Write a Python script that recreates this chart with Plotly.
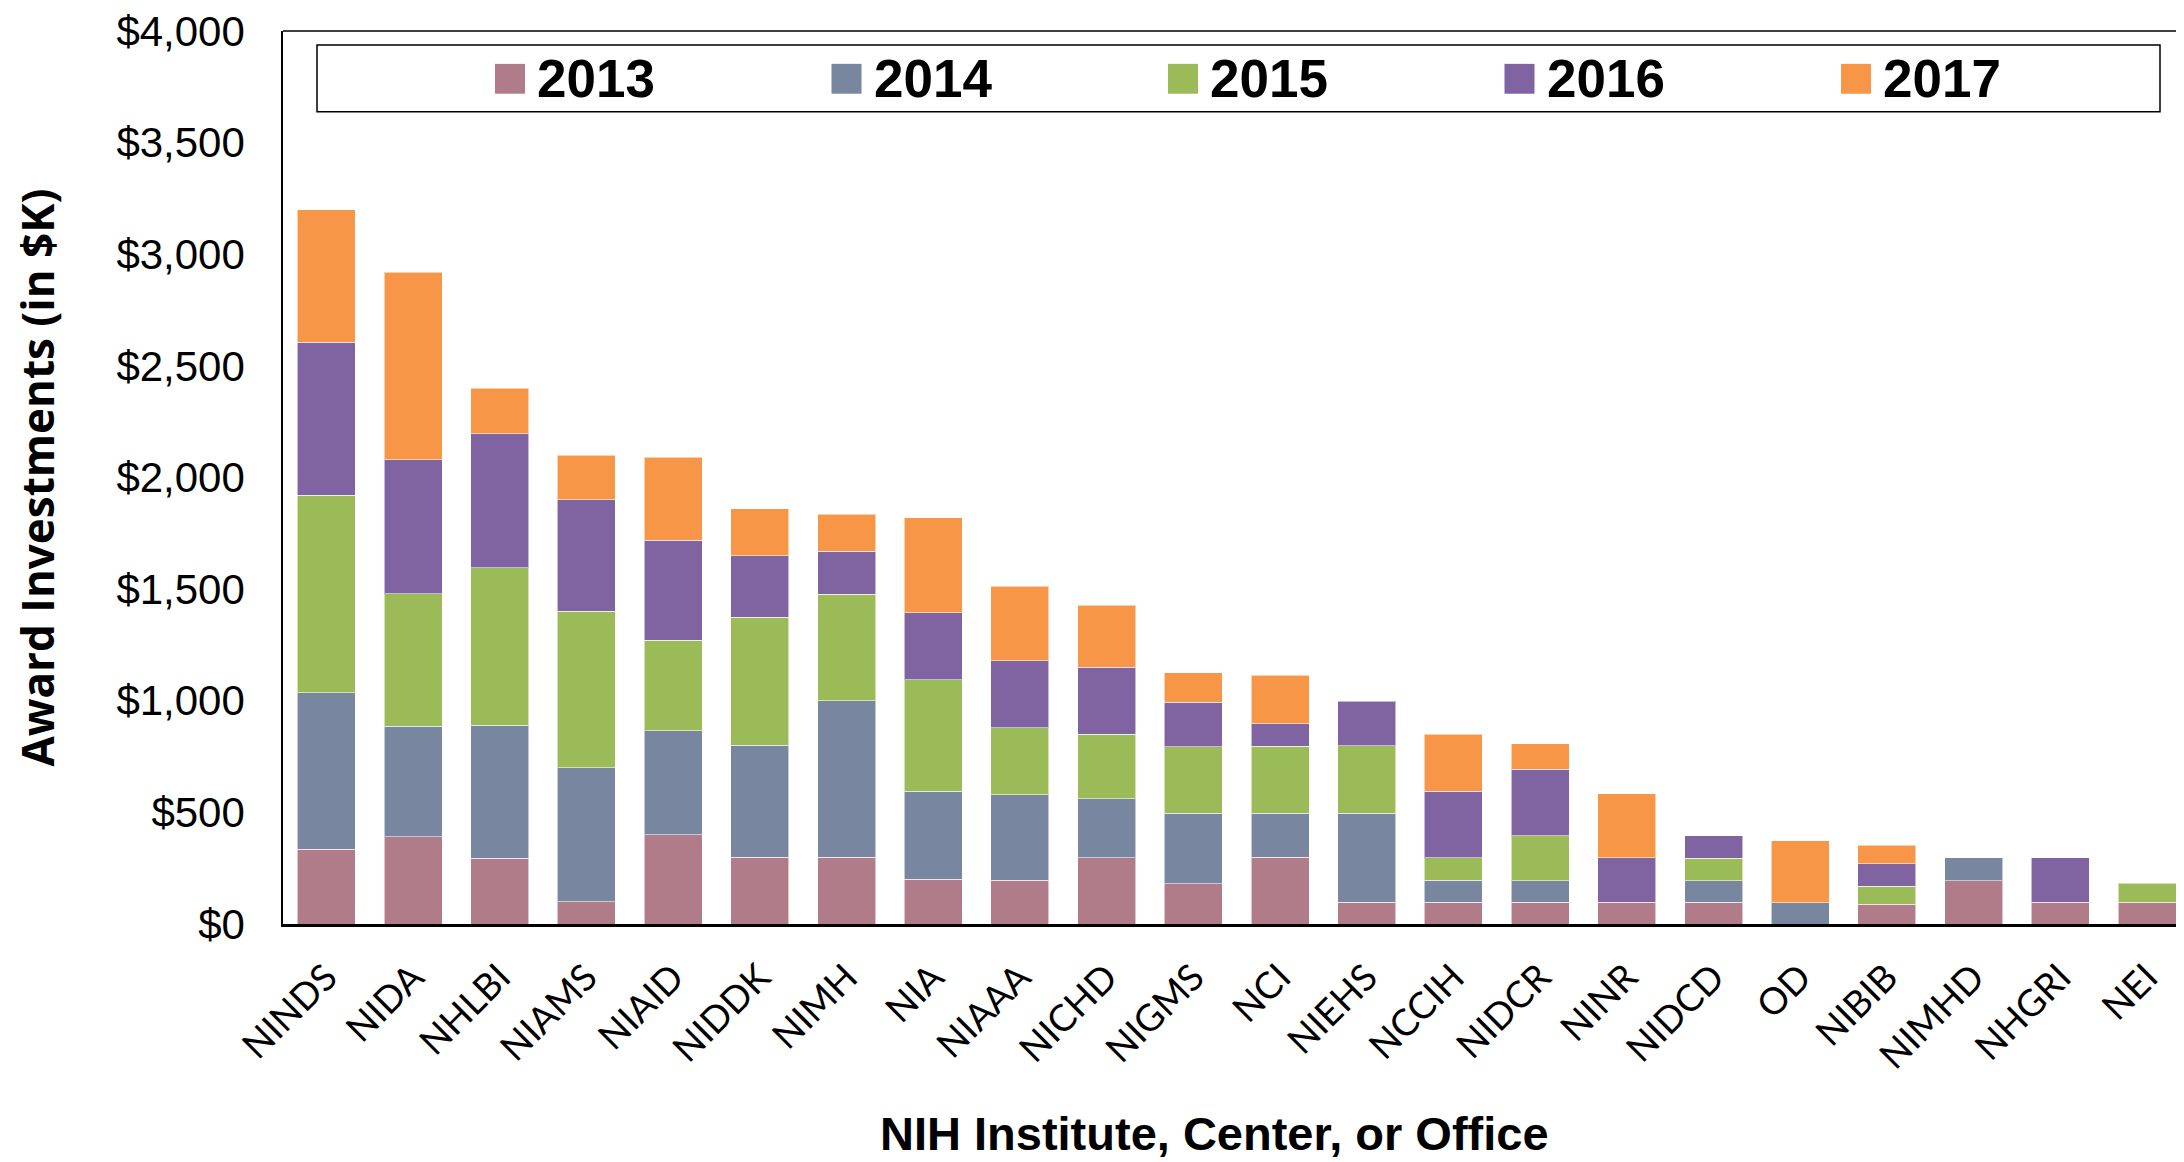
import plotly.graph_objects as go

# ---------------- data ----------------
categories = ["NINDS", "NIDA", "NHLBI", "NIAMS", "NIAID", "NIDDK", "NIMH", "NIA",
              "NIAAA", "NICHD", "NIGMS", "NCI", "NIEHS", "NCCIH", "NIDCR", "NINR",
              "NIDCD", "OD", "NIBIB", "NIMHD", "NHGRI", "NEI"]
years = ["2013", "2014", "2015", "2016", "2017"]

v2013 = [335, 390, 295, 100, 400, 300, 300, 200, 197, 296, 180, 300, 97, 97, 97, 97, 97, 0, 88, 194, 97, 97]
v2014 = [700, 495, 595, 600, 465, 500, 700, 395, 383, 266, 316, 196, 399, 99, 97, 0, 97, 95, 0, 102, 0, 0]
v2015 = [885, 595, 705, 700, 405, 575, 478, 500, 300, 288, 298, 301, 302, 101, 201, 0, 101, 0, 82, 0, 0, 85]
v2016 = [685, 600, 600, 500, 450, 275, 192, 300, 300, 300, 200, 100, 200, 298, 299, 199, 100, 0, 100, 0, 199, 0]
v2017 = [595, 840, 205, 200, 370, 210, 165, 425, 332, 277, 131, 217, 0, 254, 113, 288, 0, 277, 83, 0, 0, 0]

series = [v2013, v2014, v2015, v2016, v2017]
colors = ["#B07C8A", "#7886A0", "#9BBB59", "#8064A2", "#F79646"]

y_ticks = [0, 500, 1000, 1500, 2000, 2500, 3000, 3500, 4000]
y_tick_labels = ["$0", "$500", "$1,000", "$1,500", "$2,000", "$2,500", "$3,000", "$3,500", "$4,000"]

# ---------------- layout constants (page pixels) ----------------
OFF = 8                      # default body margin of the page
W, H = 2184, 1162
L, T = 283, 27
BOTTOM = 924
PW = W - L
PH = BOTTOM - T
CAT_PX = 86.7


def px_x(px):
    return (px - L) / PW


def px_y(py):
    return (BOTTOM - py) / PH


fig = go.Figure()
for name, vals, col in zip(years, series, colors):
    fig.add_trace(go.Bar(
        x=categories,
        y=[v if v else None for v in vals],
        name=name,
        marker=dict(color=col, line=dict(color="rgba(255,255,255,0.55)", width=1)),
        showlegend=False,
    ))

fig.update_layout(
    barmode="stack",
    bargap=0.33,
    width=W - OFF, height=H - OFF,
    margin=dict(l=L - OFF, r=0, t=T - OFF, b=H - BOTTOM, pad=0),
    plot_bgcolor="white",
    paper_bgcolor="white",
)

fig.update_xaxes(
    range=[-0.5, -0.5 + PW / CAT_PX],
    showline=True, linecolor="black", linewidth=2.5,
    showgrid=False, zeroline=False,
    ticks="", tickangle=-45,
    tickfont=dict(family="Lato, Open Sans, sans-serif", size=37, color="black"),
    ticklabelstandoff=14,
)
fig.update_yaxes(
    range=[0, 4000],
    tickmode="array", tickvals=y_ticks, ticktext=y_tick_labels,
    showline=True, linecolor="black", linewidth=1.5,
    showgrid=False, zeroline=False,
    ticks="",
    tickfont=dict(family="Liberation Sans, Arial, sans-serif", size=42, color="black"),
    ticklabelstandoff=28,
    ticklabeloverflow="allow",
)

shapes = []
# top border of plot frame
shapes.append(dict(type="line", xref="paper", yref="paper", x0=0, x1=1, y0=1, y1=1,
                   line=dict(color="black", width=1.5)))
# legend box
shapes.append(dict(type="rect", xref="paper", yref="paper",
                   x0=px_x(317), x1=px_x(2160), y0=px_y(108), y1=px_y(41),
                   line=dict(color="black", width=1.5), fillcolor="white"))

annotations = []
sq0 = 495
step = 336.5
for i, (name, col) in enumerate(zip(years, colors)):
    sx = sq0 + i * step
    shapes.append(dict(type="rect", xref="paper", yref="paper",
                       x0=px_x(sx), x1=px_x(sx + 30), y0=px_y(90), y1=px_y(60),
                       line=dict(width=0), fillcolor=col))
    annotations.append(dict(xref="paper", yref="paper", x=px_x(sx + 40), y=px_y(75),
                            xanchor="left", yanchor="middle", showarrow=False,
                            text="<b>%s</b>" % name,
                            font=dict(family="Liberation Sans, Arial, sans-serif", size=53, color="black")))

# axis titles
annotations.append(dict(xref="paper", yref="paper", x=px_x(36), y=0.5,
                        xanchor="center", yanchor="middle", textangle=-90, showarrow=False,
                        text="<b>Award Investments (in $K)</b>",
                        font=dict(family="Open Sans, sans-serif", size=44, color="black")))
annotations.append(dict(xref="paper", yref="paper", x=px_x(1214), y=px_y(1134),
                        xanchor="center", yanchor="middle", showarrow=False,
                        text="<b>NIH Institute, Center, or Office</b>",
                        font=dict(family="Liberation Sans, Arial, sans-serif", size=47, color="black")))

fig.update_layout(shapes=shapes, annotations=annotations)

fig.write_html("out.html")
